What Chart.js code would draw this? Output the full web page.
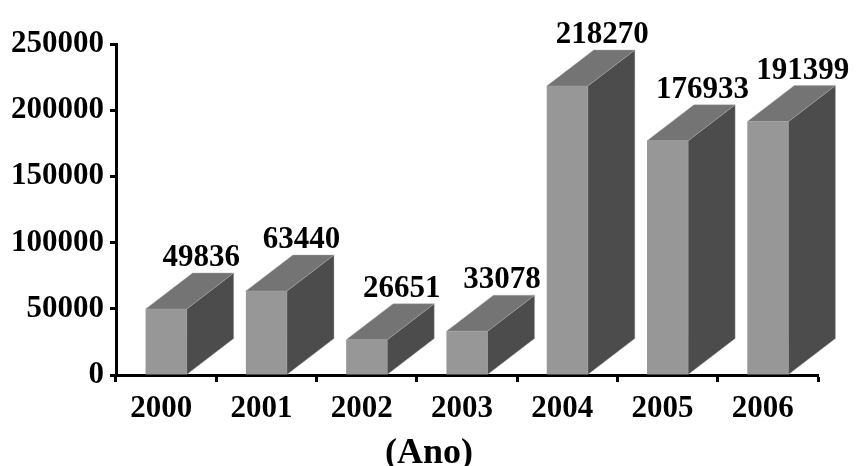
<!DOCTYPE html>
<html>
<head>
<meta charset="utf-8">
<script src="https://cdn.jsdelivr.net/npm/chart.js@4/dist/chart.umd.min.js"></script>
<style>
  html, body { margin: 0; padding: 0; background: #ffffff; }
  #wrap { width: 858px; height: 466px; }
</style>
</head>
<body>
<div id="wrap"><canvas id="c" width="858" height="466"></canvas></div>
<script>
// Yearly totals
const years = ['2000', '2001', '2002', '2003', '2004', '2005', '2006'];
const totals = [49836, 63440, 26651, 33078, 218270, 176933, 191399];
const axisTitle = '(Ano)';

const FONT = "'Liberation Serif', 'Times New Roman', serif";
const FRONT = '#979797';
const TOP = '#747474';
const SIDE = '#4c4c4c';
const DEPTH_X = 47;
const DEPTH_Y = -36;

// Extrudes each bar into a box and writes its value above it
const boxes = {
  id: 'boxes',
  afterDatasetsDraw(chart) {
    const ctx = chart.ctx;
    const meta = chart.getDatasetMeta(0);
    ctx.save();
    meta.data.forEach((bar, i) => {
      const half = bar.width / 2;
      const l = bar.x - half, r = bar.x + half;
      const t = bar.y, b = bar.base;
      // side face
      ctx.beginPath();
      ctx.moveTo(r, t);
      ctx.lineTo(r + DEPTH_X, t + DEPTH_Y);
      ctx.lineTo(r + DEPTH_X, b + DEPTH_Y);
      ctx.lineTo(r, b);
      ctx.closePath();
      ctx.fillStyle = SIDE;
      ctx.fill();
      ctx.strokeStyle = 'rgba(170,170,170,0.5)';
      ctx.lineWidth = 0.8;
      ctx.stroke();
      // top face
      ctx.beginPath();
      ctx.moveTo(l, t);
      ctx.lineTo(l + DEPTH_X, t + DEPTH_Y);
      ctx.lineTo(r + DEPTH_X, t + DEPTH_Y);
      ctx.lineTo(r, t);
      ctx.closePath();
      ctx.fillStyle = TOP;
      ctx.fill();
      ctx.stroke();
      // value label
      ctx.fillStyle = '#000000';
      ctx.font = 'bold 31px ' + FONT;
      ctx.textAlign = 'center';
      ctx.textBaseline = 'alphabetic';
      ctx.fillText(String(totals[i]), bar.x + 35, t + DEPTH_Y - 7);
    });
    ctx.restore();
  }
};

// Category axis caption, centred on the canvas
const caption = {
  id: 'caption',
  afterDraw(chart) {
    const ctx = chart.ctx;
    ctx.save();
    ctx.fillStyle = '#000000';
    ctx.font = 'bold 36px ' + FONT;
    ctx.textAlign = 'center';
    ctx.textBaseline = 'alphabetic';
    ctx.fillText(axisTitle, chart.width / 2, chart.height - 3);
    ctx.restore();
  }
};

new Chart(document.getElementById('c'), {
  type: 'bar',
  data: {
    labels: years,
    datasets: [{
      data: totals,
      backgroundColor: FRONT,
      borderWidth: 0,
      barPercentage: 0.41,
      categoryPercentage: 1.0
    }]
  },
  options: {
    responsive: false,
    animation: false,
    layout: { padding: { left: 0, right: 40, top: 44, bottom: 35 } },
    plugins: {
      legend: { display: false },
      tooltip: { enabled: false },
      title: { display: false }
    },
    scales: {
      x: {
        z: 1,
        afterFit(s) { s.height = 56; },
        grid: {
          drawOnChartArea: false,
          drawTicks: true,
          tickLength: 7,
          tickWidth: 3,
          tickColor: '#000000',
          offset: true
        },
        border: { display: true, color: '#000000', width: 3 },
        ticks: {
          color: '#000000',
          font: { family: FONT, size: 31, weight: 'bold' },
          padding: 8,
          labelOffset: -5,
          maxRotation: 0
        }
      },
      y: {
        z: 1,
        min: 0,
        max: 250000,
        afterFit(s) { s.width = 116; },
        grid: {
          drawOnChartArea: false,
          drawTicks: true,
          tickLength: 6,
          tickWidth: 3,
          tickColor: '#000000'
        },
        border: { display: true, color: '#000000', width: 3 },
        ticks: {
          stepSize: 50000,
          color: '#000000',
          font: { family: FONT, size: 31, weight: 'bold' },
          padding: 6,
          callback: (v) => String(v)
        }
      }
    }
  },
  plugins: [boxes, caption]
});
</script>
</body>
</html>
